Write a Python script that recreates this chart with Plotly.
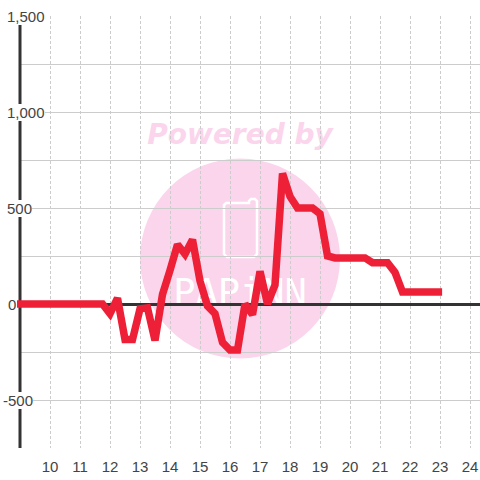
import plotly.graph_objects as go

hours = [8.9, 9.25, 9.5, 9.75, 10, 10.25, 10.5, 10.75, 11, 11.25, 11.5, 11.75, 12, 12.25, 12.5, 12.75, 13, 13.25,
         13.5, 13.75, 14, 14.25, 14.5, 14.75, 15, 15.25, 15.5, 15.75, 16, 16.25, 16.5, 16.75, 17, 17.25, 17.5,
         17.75, 18, 18.25, 18.5, 18.75, 19, 19.25, 19.5, 19.75, 20, 20.25, 20.5, 20.75, 21, 21.25, 21.5, 21.75,
         22, 22.25, 22.5, 22.75, 23.07]
values = [0, 0, 0, 0, 0, 0, 0, 0, 0, 0, 0, 0, -50, 30, -185, -185, -25, -20, -190, 50, 175, 310, 260, 335, 120,
          -10, -50, -200, -240, -240, 0, -55, 170, 0, 100, 680, 560, 500, 500, 500, 470, 250, 240, 240, 240, 240,
          240, 215, 215, 215, 165, 62, 62, 62, 62, 62, 62]
x_ticks = list(range(10, 25))
y_label_values = [1500, 1000, 500, 0, -500]
y_label_texts = ["1,500", "1,000", "500", "0", "-500"]

W, H, L, R, T, B = 480, 480, 17, 0, 16, 32
PW, PH = W - L - R, H - T - B
def px(v): return (v - L) / PW
def py(v): return (H - B - v) / PH

def path_phone():
    pts = [(226, 203), (249, 203), (249, 201), (251, 199), (255, 199), (257, 201), (257, 254), (254, 257),
           (227, 257), (224, 254), (224, 205)]
    return "M " + " L ".join(f"{px(a):.4f} {py(b):.4f}" for a, b in pts) + " Z"

INK = "#444444"
PINK = "#fbd5ec"
GRID = "#cccccc"
AXIS = "#333333"

fig = go.Figure(go.Scatter(x=hours, y=values, mode="lines",
                           line=dict(color="#ee2037", width=7.5), hoverinfo="skip", showlegend=False))

annotations = []
for v, t in zip(y_label_values, y_label_texts):
    left = 2.5 if t.startswith("-") else (8 if t == "0" else 6.5)
    annotations.append(dict(xref="paper", yref="y", x=(left - L) / PW, y=v, text=t, showarrow=False,
                            xanchor="left", yanchor="middle", bgcolor="#ffffff", borderpad=0, borderwidth=0,
                            font=dict(family="Liberation Sans", size=15, color=INK)))

shapes = [
    dict(type="circle", xref="paper", yref="paper", layer="below", x0=px(140), x1=px(340), y0=py(358.5), y1=py(158.5),
         fillcolor=PINK, line_width=0),
    dict(type="path", xref="paper", yref="paper", layer="below", path=path_phone(),
         line=dict(color="#ffffff", width=2.5), fillcolor="rgba(0,0,0,0)"),
    dict(type="rect", xref="paper", yref="paper", layer="below", x0=px(130), x1=px(350), y0=py(147), y1=py(117),
         line_width=0, fillcolor="rgba(0,0,0,0)",
         label=dict(text="<b><i>Powered by</i></b>", textposition="middle center",
                    font=dict(family="DejaVu Sans", size=28, color=PINK))),
    dict(type="rect", xref="paper", yref="paper", layer="below", x0=px(160), x1=px(320), y0=py(306), y1=py(272),
         line_width=0, fillcolor="rgba(0,0,0,0)",
         label=dict(text="PAPiNN", textposition="middle center",
                    font=dict(family="DejaVu Sans Mono", size=37, color="#ffffff"))),
    dict(type="rect", xref="x", yref="y", layer="between", x0=8.9, x1=9, y0=-750, y1=1500,
         line_width=0, fillcolor="#ffffff"),
    dict(type="line", xref="x", yref="y", layer="between", x0=9, x1=9, y0=-750, y1=1500,
         line=dict(color=AXIS, width=3)),
]

fig.update_layout(
    width=W, height=H, autosize=False,
    margin=dict(l=L, r=R, t=T, b=B, pad=0),
    paper_bgcolor="#ffffff", plot_bgcolor="rgba(0,0,0,0)",
    annotations=annotations, shapes=shapes, showlegend=False,
    xaxis=dict(range=[8.9, 24.333], tickmode="array", tickvals=x_ticks, ticktext=[str(t) for t in x_ticks],
               showgrid=True, gridcolor=GRID, gridwidth=1, griddash="3px,2px", zeroline=False, showline=False,
               ticks="outside", ticklen=5, tickcolor="rgba(0,0,0,0)",
               tickfont=dict(family="Liberation Sans", size=15, color=INK)),
    yaxis=dict(range=[-750, 1500], tickmode="linear", tick0=0, dtick=250, showticklabels=False, layer="below traces",
               showgrid=True, gridcolor=GRID, gridwidth=1.2, zeroline=True, zerolinecolor=AXIS, zerolinewidth=3,
               showline=False, ticks=""),
)

fig.write_html("out.html", post_script="document.body.style.margin='0';",
               config={"displayModeBar": False, "responsive": False})
